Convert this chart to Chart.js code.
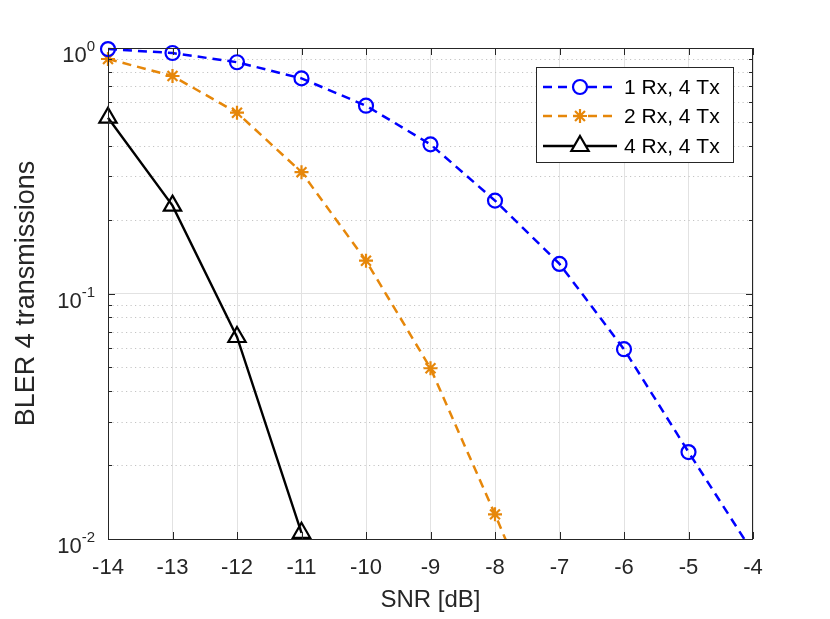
<!DOCTYPE html>
<html>
<head>
<meta charset="utf-8">
<script src="https://cdn.jsdelivr.net/npm/chart.js@4.4.1/dist/chart.umd.min.js"></script>
<style>
body { margin: 0; background: #fff; }
#wrap { width: 830px; height: 619px; position: relative; }
</style>
</head>
<body>
<div id="wrap"><canvas id="blerChart"></canvas></div>
<script>
// SNR points in dB and BLER after 4 transmissions
const snr = [-14, -13, -12, -11, -10, -9, -8, -7, -6, -5, -4];
const bler1Rx = [0.99, 0.954, 0.875, 0.752, 0.582, 0.405, 0.239, 0.132, 0.0593, 0.0226, 0.0088];
const bler2Rx = [0.902, 0.769, 0.545, 0.312, 0.136, 0.0496, 0.0126, 0.003];
const bler4Rx = [0.52, 0.228, 0.0665, 0.0106];
const seriesNames = ['1 Rx, 4 Tx', '2 Rx, 4 Tx', '4 Rx, 4 Tx'];
const xTicks = [-14, -13, -12, -11, -10, -9, -8, -7, -6, -5, -4];
const yDecades = [0.01, 0.1, 1];
const yExponents = ['-2', '-1', '0'];

const axisColor = '#262626';
const fontFamily = '"Liberation Sans", Arial, Helvetica, sans-serif';

function toPoints(values) {
    return values.map((v, i) => ({ x: snr[i], y: v }));
}

function isDecade(v) {
    const l = Math.log10(v);
    return Math.abs(l - Math.round(l)) < 1e-6;
}

// minor grid, inward ticks, box and y labels like a matlab figure
const matlabAxes = {
    id: 'matlabAxes',
    beforeDatasetsDraw(chart) {
        const { ctx, chartArea: a, scales: { y } } = chart;
        ctx.save();
        ctx.strokeStyle = '#c4c4c4';
        ctx.lineWidth = 1;
        ctx.setLineDash([1.2, 3.3]);
        for (let d = -2; d < 0; d++) {
            for (let m = 2; m <= 9; m++) {
                const py = Math.round(y.getPixelForValue(m * Math.pow(10, d))) + 0.5;
                ctx.beginPath();
                ctx.moveTo(a.left, py);
                ctx.lineTo(a.right, py);
                ctx.stroke();
            }
        }
        ctx.restore();
    },
    afterDraw(chart) {
        const { ctx, chartArea: a, scales: { x, y } } = chart;
        ctx.save();
        ctx.strokeStyle = axisColor;
        ctx.lineWidth = 1;
        ctx.strokeRect(a.left + 0.5, a.top + 0.5, a.right - a.left - 1, a.bottom - a.top);

        ctx.beginPath();
        xTicks.forEach(t => {
            const px = Math.round(x.getPixelForValue(t)) + 0.5;
            ctx.moveTo(px, a.bottom);
            ctx.lineTo(px, a.bottom - 7);
            ctx.moveTo(px, a.top);
            ctx.lineTo(px, a.top + 7);
        });
        for (let d = -2; d <= 0; d++) {
            for (let m = 1; m <= 9; m++) {
                const v = m * Math.pow(10, d);
                if (v > 1) break;
                const len = m === 1 ? 7 : 4;
                const py = Math.round(y.getPixelForValue(v)) + 0.5;
                ctx.moveTo(a.left, py);
                ctx.lineTo(a.left + len, py);
                ctx.moveTo(a.right, py);
                ctx.lineTo(a.right - len, py);
            }
        }
        ctx.stroke();

        // y tick labels with superscript exponent
        ctx.fillStyle = axisColor;
        ctx.textBaseline = 'alphabetic';
        yDecades.forEach((v, i) => {
            const py = y.getPixelForValue(v);
            ctx.font = '15px ' + fontFamily;
            const expW = ctx.measureText(yExponents[i]).width;
            const right = a.left - 13;
            ctx.textAlign = 'left';
            ctx.fillText(yExponents[i], right - expW, py + 3);
            ctx.font = '22px ' + fontFamily;
            ctx.textAlign = 'right';
            ctx.fillText('10', right - expW, py + 14);
        });

        // legend box inside the axes
        const box = { left: 536, top: 67, right: 733, bottom: 162 };
        ctx.fillStyle = '#fff';
        ctx.fillRect(box.left, box.top, box.right - box.left, box.bottom - box.top);
        ctx.strokeStyle = axisColor;
        ctx.strokeRect(box.left + 0.5, box.top + 0.5, box.right - box.left, box.bottom - box.top);
        const rows = [87, 116, 146];
        chart.data.datasets.forEach((ds, i) => {
            const ry = rows[i];
            ctx.save();
            ctx.strokeStyle = ds.borderColor;
            ctx.lineWidth = ds.borderWidth;
            ctx.setLineDash(ds.borderDash || []);
            ctx.beginPath();
            ctx.moveTo(543, ry);
            ctx.lineTo(617, ry);
            ctx.stroke();
            ctx.setLineDash([]);
            ctx.fillStyle = '#ffffff';
            ctx.lineWidth = ds.pointBorderWidth;
            Chart.helpers.drawPoint(ctx, {
                pointStyle: ds.pointStyle,
                radius: ds.pointRadius,
                borderWidth: ds.pointBorderWidth,
                rotation: 0
            }, 580, ry);
            ctx.restore();
            ctx.fillStyle = '#000';
            ctx.font = '21px ' + fontFamily;
            ctx.textAlign = 'left';
            ctx.textBaseline = 'middle';
            ctx.fillText(seriesNames[i], 624, ry + 1);
        });
        ctx.restore();
    }
};

const ctx = document.getElementById('blerChart').getContext('2d');
const blerChart = new Chart(ctx, {
    type: 'line',
    data: {
        datasets: [{
            label: seriesNames[0],
            data: toPoints(bler1Rx),
            borderColor: '#0000ff',
            backgroundColor: 'transparent',
            borderWidth: 2.5,
            borderDash: [9, 6],
            pointStyle: 'circle',
            pointRadius: 7,
            pointBorderWidth: 2.2,
            pointBackgroundColor: 'transparent',
            pointBorderColor: '#0000ff',
            clip: { left: 12, right: 12, top: 12, bottom: 0 }
        }, {
            label: seriesNames[1],
            data: toPoints(bler2Rx),
            borderColor: '#e6870a',
            backgroundColor: 'transparent',
            borderWidth: 2.5,
            borderDash: [9, 6],
            pointStyle: 'star',
            pointRadius: 7,
            pointBorderWidth: 2.2,
            pointBackgroundColor: 'transparent',
            pointBorderColor: '#e6870a',
            clip: { left: 12, right: 12, top: 12, bottom: 0 }
        }, {
            label: seriesNames[2],
            data: toPoints(bler4Rx),
            borderColor: '#000000',
            backgroundColor: 'transparent',
            borderWidth: 2.4,
            pointStyle: 'triangle',
            pointRadius: 10,
            pointBorderWidth: 2.2,
            pointBackgroundColor: 'transparent',
            pointBorderColor: '#000000',
            clip: { left: 12, right: 12, top: 12, bottom: 0 }
        }]
    },
    options: {
        responsive: true,
        maintainAspectRatio: false,
        animation: false,
        layout: { padding: { left: 0, top: 48, right: 77, bottom: 0 } },
        plugins: {
            legend: { display: false },
            tooltip: { enabled: false }
        },
        elements: { line: { tension: 0 } },
        scales: {
            x: {
                type: 'linear',
                min: -14,
                max: -4,
                afterFit(scale) { scale.height = 80; },
                afterBuildTicks(scale) { scale.ticks = xTicks.map(v => ({ value: v })); },
                ticks: {
                    color: axisColor,
                    padding: 16,
                    font: { family: fontFamily, size: 22 },
                    maxRotation: 0
                },
                grid: { color: '#e2e2e2', drawTicks: false },
                border: { display: false },
                title: {
                    display: true,
                    text: 'SNR [dB]',
                    color: axisColor,
                    font: { family: fontFamily, size: 24 },
                    padding: { top: 0, bottom: 4 }
                }
            },
            y: {
                type: 'logarithmic',
                min: 0.01,
                max: 1,
                afterFit(scale) { scale.width = 108; },
                ticks: { display: false },
                grid: {
                    color: c => (c.tick && isDecade(c.tick.value)) ? '#e2e2e2' : 'transparent',
                    drawTicks: false
                },
                border: { display: false },
                title: {
                    display: true,
                    text: 'BLER 4 transmissions',
                    color: axisColor,
                    font: { family: fontFamily, size: 27 },
                    padding: { top: 10, bottom: 0 }
                }
            }
        }
    },
    plugins: [matlabAxes]
});
</script>
</body>
</html>
